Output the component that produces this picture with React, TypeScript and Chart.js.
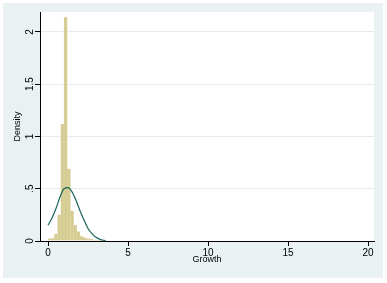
import React, { useEffect, useRef } from "react";
import { Chart, registerables } from "chart.js";

Chart.register(...registerables);

// Histogram bins (bin centers, width 0.2) and densities
const binCenters = [0.1, 0.3, 0.5, 0.7, 0.9, 1.1, 1.3, 1.5, 1.7, 1.9, 2.1, 2.3, 2.5, 2.7, 2.9, 3.1, 3.3, 3.5, 3.7, 3.9];
const binDensity = [0.025, 0.027, 0.07, 0.25, 1.12, 2.14, 0.69, 0.29, 0.15, 0.09, 0.045, 0.033, 0.023, 0.018, 0.012, 0.01, 0.008, 0.006, 0.005, 0.004];

// Normal density overlay
const curveX = [0, 0.25, 0.5, 0.75, 1.0, 1.25, 1.5, 1.75, 2.0, 2.25, 2.5, 2.75, 3.0, 3.25, 3.5, 3.6];
const curveY = [0.15, 0.22, 0.31, 0.42, 0.5, 0.51, 0.47, 0.39, 0.29, 0.2, 0.12, 0.07, 0.035, 0.015, 0.006, 0.004];

const xTicks = [0, 5, 10, 15, 20];
const xTickLabels = ["0", "5", "10", "15", "20"];
const yTicks = [0, 0.5, 1, 1.5, 2];
const yTickLabels = ["0", ".5", "1", "1.5", "2"];

const xTitle = "Growth";
const yTitle = "Density";

const FONT = "'Liberation Sans', Arial, sans-serif";

export default function App() {
  const ref = useRef<HTMLCanvasElement>(null);

  useEffect(() => {
    if (!ref.current) return;
    const bgPlugin = {
      id: "bg",
      beforeDraw(chart: any) {
        const { ctx, chartArea } = chart;
        ctx.save();
        ctx.fillStyle = "#ffffff";
        ctx.fillRect(0, 0, chart.width, chart.height);
        ctx.fillStyle = "rgb(233,241,243)";
        ctx.fillRect(3, 3, 380, 275);
        ctx.fillStyle = "#ffffff";
        ctx.fillRect(chartArea.left, chartArea.top, chartArea.right - chartArea.left, chartArea.bottom - chartArea.top);
        ctx.restore();
      },
    };
    const chart = new Chart(ref.current, {
      type: "bar",
      data: {
        datasets: [
          {
            type: "line",
            data: curveX.map((x, i) => ({ x, y: curveY[i] })),
            borderColor: "rgb(26,102,92)",
            borderWidth: 1.2,
            pointRadius: 0,
            cubicInterpolationMode: "monotone",
            fill: false,
            order: 0,
          } as any,
          {
            type: "bar",
            data: binCenters.map((x, i) => ({ x, y: binDensity[i] })),
            backgroundColor: "rgb(213,204,145)",
            borderColor: "rgb(226,220,178)",
            borderWidth: { left: 0.5, right: 0.5, top: 0, bottom: 0 },
            barPercentage: 1,
            categoryPercentage: 1,
            order: 1,
          } as any,
        ],
      },
      options: {
        responsive: false,
        animation: false,
        devicePixelRatio: 1,
        layout: { padding: { left: 0, top: 12, right: 13, bottom: 0 } },
        plugins: { legend: { display: false }, tooltip: { enabled: false } },
        scales: {
          x: {
            type: "linear",
            min: -0.5,
            max: 20.375,
            offset: false,
            afterFit(scale: any) {
              scale.height = 42;
            },
            afterBuildTicks(scale: any) {
              scale.ticks = xTicks.map((v) => ({ value: v }));
            },
            grid: { offset: false, drawOnChartArea: false, drawTicks: true, tickLength: 5, tickColor: "#000", color: "#000" },
            border: { display: true, color: "#000", width: 1 },
            ticks: {
              color: "#000",
              font: { family: FONT, size: 10 },
              padding: 1,
              maxRotation: 0,
              autoSkip: false,
              callback: (v: any) => {
                const i = xTicks.indexOf(Number(v));
                return i >= 0 ? xTickLabels[i] : "";
              },
            },
            title: {
              display: true,
              text: xTitle,
              color: "#000",
              font: { family: FONT, size: 9 },
              padding: { top: 0, bottom: 18 },
            },
          },
          y: {
            type: "linear",
            min: 0,
            max: 2.19,
            afterFit(scale: any) {
              scale.width = 40;
            },
            afterBuildTicks(scale: any) {
              scale.ticks = yTicks.map((v) => ({ value: v }));
            },
            grid: { drawOnChartArea: true, drawTicks: true, tickLength: 5, tickColor: "#000", color: "rgb(226,235,238)" },
            border: { display: true, color: "#000", width: 1 },
            ticks: {
              color: "#000",
              font: { family: FONT, size: 10 },
              padding: -2,
              minRotation: 90,
              maxRotation: 90,
              crossAlign: "center",
              autoSkip: false,
              callback: (v: any) => {
                const i = yTicks.indexOf(Number(v));
                return i >= 0 ? yTickLabels[i] : "";
              },
            },
            title: {
              display: true,
              text: yTitle,
              color: "#000",
              font: { family: FONT, size: 9 },
              padding: { top: 12, bottom: 0 },
            },
          },
        },
      },
      plugins: [bgPlugin],
    });
    return () => chart.destroy();
  }, []);

  return (
    <div style={{ position: "absolute", left: 0, top: 0, width: 387, height: 283 }}>
      <canvas ref={ref} width={387} height={283} style={{ width: 387, height: 283 }} />
    </div>
  );
}
